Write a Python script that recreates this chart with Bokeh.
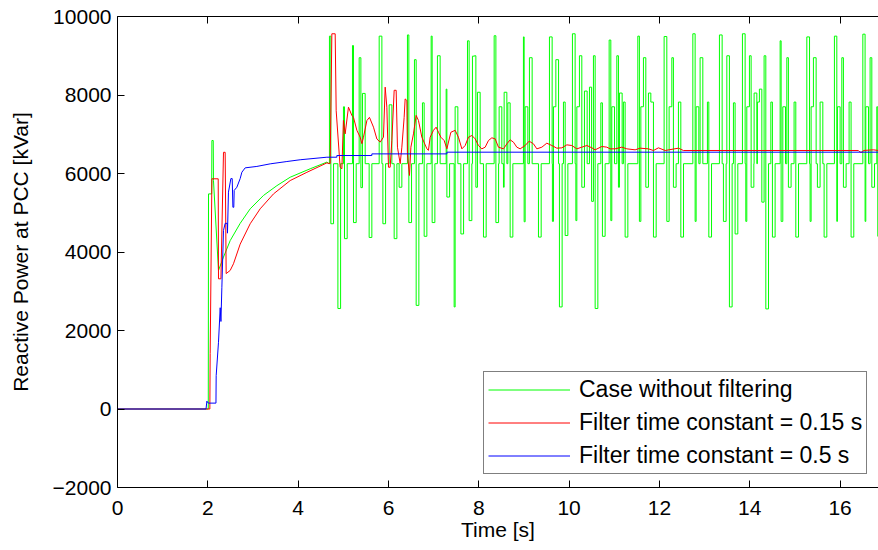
from bokeh.plotting import figure
from bokeh.models import (Range1d, LinearAxis, FixedTicker, Legend, LegendItem)
from bokeh.embed import file_html
from bokeh.resources import INLINE

# ---------------- data ----------------
x_ticks = [0, 2, 4, 6, 8, 10, 12, 14, 16]
y_ticks = [-2000, 0, 2000, 4000, 6000, 8000, 10000]
x_end = 16.85

# green: case without filtering -- initial transient
green_rise_t = [0, 2.010, 2.015, 2.085, 2.090, 2.120, 2.125, 2.236, 2.347, 2.495,
                2.716, 2.938, 3.232, 3.529, 3.823, 4.266, 4.636, 4.680]
green_rise_q = [0, 0, 5480, 5480, 6840, 6840, 5820, 3530, 3870, 4290,
                4730, 5100, 5440, 5690, 5905, 6120, 6290, 6250]
# green: oscillation phase, level taken at each switching instant
green_base = 6250
green_hold = 0.06
green_spike_t = [
    4.693, 4.724, 4.880, 5.003, 5.026, 5.203, 5.225, 5.351, 5.389, 5.424,
    5.572, 5.794, 5.876, 6.015, 6.126, 6.236, 6.420, 6.451, 6.575, 6.613,
    6.752, 6.790, 6.945, 6.967, 7.084, 7.277, 7.293, 7.454, 7.476, 7.603,
    7.749, 7.786, 7.859, 7.904, 7.935, 7.970, 8.103, 8.340, 8.378, 8.450,
    8.546, 8.561, 8.643, 8.694, 8.988, 9.004, 9.026, 9.121, 9.321, 9.564,
    9.630, 9.653, 9.706, 9.785, 9.874, 9.912, 10.073, 10.149, 10.171, 10.228,
    10.281, 10.339, 10.450, 10.498, 10.538, 10.576, 10.702, 10.737, 10.886, 10.923,
    10.945, 11.056, 11.092, 11.114, 11.202, 11.240, 11.521, 11.556, 11.588, 11.645,
    11.698, 11.756, 11.809, 11.867, 12.103, 12.163, 12.214, 12.274, 12.309, 12.420,
    12.473, 12.739, 12.790, 12.812, 12.900, 13.062, 13.093, 13.328, 13.416, 13.492,
    13.549, 13.638, 13.675, 13.837, 13.912, 13.934, 13.992, 14.030, 14.096, 14.169,
    14.213, 14.267, 14.317, 14.355, 14.466, 14.501, 14.672, 14.694, 14.731, 14.820,
    14.855, 14.981, 15.019, 15.263, 15.336, 15.358, 15.409, 15.497, 15.557, 15.646,
    15.874, 15.927, 15.940, 16.038, 16.073, 16.199, 16.243, 16.503, 16.553, 16.569,
    16.664, 16.702, 16.812, 16.834]
green_spike_q = [
    9500, 4720, 2560, 7700, 4340, 9260, 4750, 8950, 5640, 8040,
    4370, 9500, 4720, 7750, 4340, 5650, 9530, 4750, 8900, 2640,
    7800, 4400, 9500, 4750, 9000, 8150, 5400, 2600, 7700, 4460,
    9380, 4800, 8990, 9000, 5650, 8070, 4380, 9510, 4750, 7700,
    5650, 8070, 7800, 4380, 9480, 4770, 7700, 8950, 4380, 9480,
    4780, 7700, 8900, 2600, 7820, 4420, 9560, 4800, 7700, 9000,
    5650, 8100, 8200, 5290, 9000, 2560, 7800, 4400, 9400, 4800,
    7700, 9000, 5650, 8050, 7820, 4380, 9500, 4780, 7700, 8950,
    5650, 8050, 7820, 4380, 9490, 4780, 7700, 8950, 5650, 7820,
    4380, 9560, 4780, 7700, 8950, 7820, 4380, 9530, 4780, 9000,
    2600, 7800, 4460, 9560, 4780, 7700, 9000, 5650, 8050, 7820,
    8150, 5270, 9000, 2550, 7820, 4380, 9380, 4780, 7700, 8950,
    5650, 7820, 4380, 9480, 4780, 7700, 8950, 5650, 7820, 4380,
    9500, 4780, 7700, 8950, 5650, 7820, 4380, 9550, 4780, 7700,
    8950, 5650, 7700, 4400]

# red: filter time constant 0.15 s
red_t = [0, 2.045, 2.052, 2.090, 2.230, 2.236, 2.290, 2.347, 2.384, 2.406,
         2.495, 2.568, 2.716, 2.938, 3.159, 3.454, 3.823, 4.193, 4.636, 4.709,
         4.746, 4.820, 4.842, 4.930, 4.968, 5.003, 5.041, 5.114, 5.189, 5.225,
         5.300, 5.373, 5.411, 5.446, 5.522, 5.579, 5.668, 5.743, 5.816, 5.889,
         5.927, 5.964, 6.000, 6.037, 6.075, 6.126, 6.170, 6.199, 6.259, 6.296,
         6.347, 6.369, 6.407, 6.420, 6.465, 6.496, 6.553, 6.613, 6.664, 6.739,
         6.850, 6.885, 6.923, 6.996, 7.055, 7.107, 7.160, 7.233, 7.293, 7.381,
         7.476, 7.549, 7.625, 7.698, 7.771, 7.846, 7.919, 7.992, 8.067, 8.141,
         8.214, 8.289, 8.362, 8.435, 8.546, 8.621, 8.694, 8.767, 8.842, 8.915,
         9.026, 9.115, 9.210, 9.285, 9.396, 9.506, 9.617, 9.728, 9.839, 9.949,
         10.060, 10.171, 10.281, 10.392, 10.503, 10.576, 10.724, 10.835, 10.908, 11.019,
         11.167, 11.278, 11.461, 11.572, 11.756, 11.867, 11.977, 12.126, 12.420, 12.531,
         16.405, 16.442, 16.493, 16.516, 16.737, 16.850]
red_q = [0, 0, 1410, 5865, 5865, 3317, 3317, 6540, 6540, 3450,
         3530, 3700, 4200, 4720, 5100, 5480, 5820, 6030, 6270, 6250,
         9560, 9560, 7600, 6160, 6120, 7350, 7010, 7690, 7480, 7430,
         7100, 6925, 6760, 6925, 7350, 7430, 7180, 6880, 6800, 6925,
         8200, 7690, 6160, 6160, 6840, 8120, 8120, 6670, 6250, 6670,
         7430, 7900, 7860, 6500, 5950, 6670, 7010, 7480, 7350, 6925,
         6630, 6590, 6925, 7100, 7180, 7050, 6925, 6840, 6630, 7050,
         7100, 6925, 6628, 6713, 6925, 6968, 6883, 6713, 6628, 6671,
         6841, 6909, 6883, 6671, 6628, 6756, 6858, 6798, 6671, 6628,
         6713, 6824, 6756, 6628, 6671, 6773, 6713, 6645, 6654, 6730,
         6713, 6628, 6671, 6713, 6654, 6603, 6688, 6671, 6628, 6628,
         6671, 6628, 6603, 6645, 6628, 6586, 6654, 6586, 6645, 6586,
         6586, 6543, 6543, 6586, 6603, 6586]

# blue: filter time constant 0.5 s
blue_t = [0, 1.960, 1.979, 2.010, 2.180, 2.185, 2.236, 2.274, 2.290, 2.311,
          2.347, 2.384, 2.430, 2.435, 2.457, 2.510, 2.540, 2.555, 2.575, 2.584,
          2.643, 2.716, 2.754, 2.827, 3.086, 3.381, 3.750, 4.045, 4.636, 4.857,
          4.857, 5.632, 5.632, 7.293, 7.293, 16.850]
blue_q = [0, 0, 200, 150, 150, 850, 1700, 2580, 2230, 3100,
          4550, 4730, 4730, 4480, 5525, 5870, 5870, 5140, 5140, 5570,
          5650, 5870, 6033, 6144, 6180, 6246, 6305, 6350, 6415, 6415,
          6458, 6458, 6500, 6500, 6543, 6543]

labels = ["Case without filtering",
          "Filter time constant = 0.15 s",
          "Filter time constant = 0.5 s"]

# ---------------- build green step trace ----------------
gt = list(green_rise_t)
gq = list(green_rise_q)
events = sorted(zip(green_spike_t, green_spike_q))
for i, (t, q) in enumerate(events):
    gt += [t, t]
    gq += [gq[-1], q]
    end = t + green_hold
    if i + 1 < len(events) and events[i + 1][0] <= end:
        continue
    gt += [end, end]
    gq += [q, green_base]
gt.append(x_end)
gq.append(green_base)

# ---------------- figure ----------------
FONT = "Liberation Sans"
p = figure(width=878, height=550, output_backend="svg", toolbar_location=None,
           x_range=Range1d(0, x_end), y_range=Range1d(-2000, 10000),
           min_border_left=117, min_border_right=0, min_border_top=16,
           min_border_bottom=63)
p.background_fill_color = "white"
p.border_fill_color = "white"
p.outline_line_color = None
p.xgrid.visible = False
p.ygrid.visible = False

g = p.line(gt, gq, line_color="#00ff00", line_width=1)
r = p.line(red_t, red_q, line_color="#ff0000", line_width=1)
b = p.line(blue_t, blue_q, line_color="#0000ff", line_width=1)

for ax in (p.xaxis[0], p.yaxis[0]):
    ax.axis_line_color = "black"
    ax.axis_line_width = 1
    ax.major_tick_line_color = "black"
    ax.major_tick_in = 7
    ax.major_tick_out = 0
    ax.minor_tick_line_color = None
    ax.major_label_text_font = FONT
    ax.major_label_text_font_size = "21px"
    ax.major_label_text_color = "black"
    ax.axis_label_text_font = FONT
    ax.axis_label_text_font_size = "21px"
    ax.axis_label_text_font_style = "normal"
    ax.axis_label_text_color = "black"

p.xaxis[0].ticker = FixedTicker(ticks=x_ticks)
p.yaxis[0].ticker = FixedTicker(ticks=y_ticks)
p.yaxis[0].major_label_overrides = {-2000: "\u22122000"}
p.xaxis[0].axis_label = "Time [s]"
p.yaxis[0].axis_label = "Reactive Power at PCC [kVar]"
p.xaxis[0].major_label_standoff = 13
p.xaxis[0].axis_label_standoff = 0
p.yaxis[0].major_label_standoff = 6
p.yaxis[0].axis_label_standoff = 18

top = LinearAxis(ticker=FixedTicker(ticks=x_ticks), axis_line_color="black",
                 major_tick_in=7, major_tick_out=0, minor_tick_line_color=None,
                 major_label_text_font_size="1px", major_label_text_color=None,
                 major_label_standoff=0)
p.add_layout(top, "above")

legend = Legend(items=[LegendItem(label=labels[0], renderers=[g]),
                       LegendItem(label=labels[1], renderers=[r]),
                       LegendItem(label=labels[2], renderers=[b])],
                location=(366, 13), orientation="vertical",
                label_text_font=FONT, label_text_font_size="23px",
                label_text_color="black",
                glyph_width=82, glyph_height=23, label_height=23,
                label_standoff=9, spacing=6, padding=4, margin=0,
                border_line_color="black", border_line_width=1,
                background_fill_color="white", background_fill_alpha=1.0)
p.add_layout(legend)

open("out.html", "w").write(file_html(p, INLINE))
